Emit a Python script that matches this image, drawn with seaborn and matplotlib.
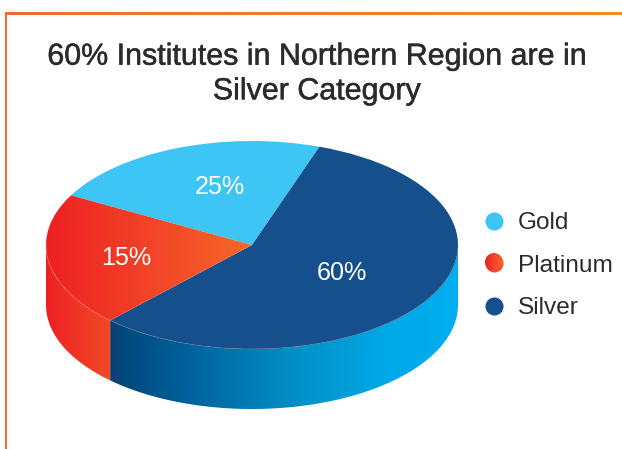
import numpy as np
import matplotlib
matplotlib.use("Agg")
import matplotlib.pyplot as plt
import matplotlib.patheffects as pe
from matplotlib.colors import LinearSegmentedColormap
from matplotlib.lines import Line2D
from matplotlib.patches import PathPatch, Circle, Rectangle
from matplotlib.path import Path
import seaborn as sns

# ---- data ----
categories = ["Gold", "Platinum", "Silver"]
percent_labels = [25, 15, 60]
# The reference's slices are not drawn in proportion to their printed labels;
# these are the angular sizes measured from its ellipse.
drawn_sweep_deg = [80.6, 75.0, 204.4]
title_lines = "60% Institutes in Northern Region are in\nSilver Category"

# ---- styles ----
GOLD = "#3DC6F5"
SILVER = "#154F8C"
TEXT = "#2B2B2B"
platinum_cmap = sns.blend_palette(["#ED2024", "#F6682A"], as_cmap=True)
platinum_side_cmap = sns.blend_palette(["#ED2024", "#F24A26"], as_cmap=True)
silver_side_cmap = LinearSegmentedColormap.from_list(
    "silver_side",
    [(0.0, "#123E73"), (0.04, "#004A7C"), (0.25, "#00659F"),
     (0.55, "#0092C8"), (0.8, "#00A9E8"), (1.0, "#00AEEF")])
frame_cmap = sns.blend_palette(["#F26A35", "#F68B1F"], as_cmap=True)

sns.set_theme(style="white")
plt.rcParams["font.family"] = ["Liberation Sans", "DejaVu Sans"]

W, H = 622, 449
fig = plt.figure(figsize=(W / 100, H / 100), dpi=100, facecolor="white")

# ---- pie geometry in pixels ----
cx, cy, rx, ry, depth = 252, 245, 206, 104, 60
m = 0.03
left = cx - rx * (1 + m)
right = cx + rx * (1 + m)
top = cy - ry * (1 + m)
bottom = cy + ry + depth + ry * m
ax = fig.add_axes([left / W, 1 - bottom / H, (right - left) / W, (bottom - top) / H])

wedges, _ = ax.pie(drawn_sweep_deg, colors=[GOLD, "none", SILVER], startangle=70.9,
                   counterclock=True, radius=1, normalize=True,
                   wedgeprops=dict(linewidth=0))
ax.set_aspect("auto")
xlim = (-1 - m, 1 + m)
ylim = (-1 - depth / ry - m, 1 + m)
d = depth / ry


def side_path(a0, a1):
    t = np.radians(np.linspace(a0, a1, 120))
    x, y = np.cos(t), np.sin(t)
    verts = np.r_[np.c_[x, y], np.c_[x[::-1], y[::-1] - d], [[x[0], y[0]]]]
    return Path(verts)


def gradient(cmap, extent, clip, z):
    im = ax.imshow(np.linspace(0, 1, 512)[None, :], cmap=cmap, extent=extent,
                   aspect="auto", zorder=z, interpolation="bilinear")
    im.set_clip_path(clip)
    return im


plat_end = wedges[1].theta2
# side walls (only the part of the rim facing the viewer)
p_side = PathPatch(side_path(180, plat_end), fc="none", ec="none", transform=ax.transData)
s_side = PathPatch(side_path(plat_end, 360), fc="none", ec="none", transform=ax.transData)
ax.add_patch(p_side)
ax.add_patch(s_side)
plat_x = np.cos(np.radians(plat_end))
gradient(platinum_side_cmap, (-1, plat_x, ylim[0], ylim[1]), p_side, 0.5)
gradient(silver_side_cmap, (plat_x, 1, ylim[0], ylim[1]), s_side, 0.5)
# platinum top face gradient
gradient(platinum_cmap, (-1, 0, ylim[0], ylim[1]), wedges[1], 1.5)

# thin seams on the rim
for a0, a1, col in [(180, plat_end, "#F8875A"), (plat_end, 360, "#6C7F95")]:
    t = np.radians(np.linspace(a0, a1, 120))
    ax.plot(np.cos(t), np.sin(t), color=col, lw=0.3, zorder=2)

ax.set_xlim(xlim)
ax.set_ylim(ylim)
ax.axis("off")

# ---- overlay in pixel coordinates: frame, text, legend ----
px = fig.add_axes([0, 0, 1, 1], zorder=5)
px.patch.set_alpha(0)
px.imshow(np.linspace(0, 1, 256)[None, :], cmap=frame_cmap, extent=(5, W, 15, 12.7),
          aspect="auto")
px.add_patch(Rectangle((5, 12.7), 2.3, H - 12.7, fc="#F4693A", ec="none"))

px.text(316.5, 74, title_lines, ha="center", va="center", color=TEXT,
        fontsize=21.9, linespacing=1.3,
        path_effects=[pe.withStroke(linewidth=0.35, foreground=TEXT)])

for value, (x, y) in zip(percent_labels, [(219.5, 187), (126, 258), (342, 273)]):
    px.text(x, y, f"{value}%", ha="center", va="center", color="white", fontsize=18.1)

handles = [Line2D([], [], ls="", marker="o", ms=13, mew=0, color=c)
           for c in [GOLD, "#F2492A", SILVER]]
leg = px.legend(handles, categories, loc="upper left",
                bbox_to_anchor=(481.8 / W, 1 - 212 / H),
                bbox_transform=fig.transFigure, frameon=False, fontsize=17.6,
                labelcolor=TEXT, borderpad=0, borderaxespad=0, handletextpad=0.48,
                handlelength=1.0, labelspacing=0.84)

# gradient-filled legend marker for Platinum
clip = Circle((494, 262), 9, fc="none", ec="none")
px.add_patch(clip)
im = px.imshow(np.linspace(0, 1, 64)[None, :], cmap=platinum_cmap, extent=(485, 503, 271, 253),
               aspect="auto", zorder=6)
im.set_clip_path(clip)

px.set_xlim(0, W)
px.set_ylim(H, 0)
px.axis("off")

fig.savefig("out.png", dpi=100, facecolor="white")
